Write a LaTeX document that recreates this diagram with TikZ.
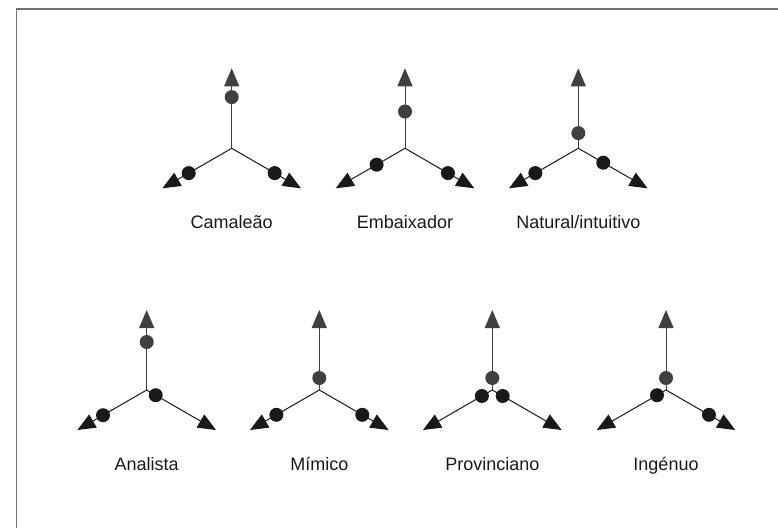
\documentclass[tikz,border=0pt]{standalone}
\usepackage{fontspec}
\setmainfont{Liberation Sans}
\usepackage{tikz}
\usetikzlibrary{arrows.meta, positioning, calc}

\begin{document}
\begin{tikzpicture}[
    x=1pt, y=-1pt,
    arm/.style={-{Triangle[length=18pt, width=15pt]}, line width=1pt, draw=black!90},
    uparm/.style={arm, draw=black!75},
    dot/.style={circle, fill=black!90, inner sep=0pt, minimum size=14pt},
    topdot/.style={dot, fill=black!75},
    caption/.style={font=\fontsize{18}{21}\selectfont, text=black!90, anchor=base, inner sep=0pt},
    frame/.style={line width=1.3pt, draw=black!55}
]
\useasboundingbox (0,0) rectangle (778,528);
\draw[frame] (16.5,528) -- (16.5,9) -- (778,9);

% Camaleao
\coordinate (cam) at (231.7,148.3);
\coordinate[above=80pt of cam] (cam-u);
\coordinate[below left=40pt and 69.3pt of cam] (cam-l);
\coordinate[below right=40pt and 69.3pt of cam] (cam-r);
\draw[uparm] (cam) -- (cam-u);
\draw[arm] (cam) -- (cam-l);
\draw[arm] (cam) -- (cam-r);
\node[topdot] (cam-du) at ($(cam)!0.64!(cam-u)$) {};
\node[dot] (cam-dl) at ($(cam)!0.62!(cam-l)$) {};
\node[dot] (cam-dr) at ($(cam)!0.62!(cam-r)$) {};
\node[below=80pt of cam, caption] (cam-t) {Camaleão};

% Embaixador
\coordinate (emb) at (405,148.3);
\coordinate[above=80pt of emb] (emb-u);
\coordinate[below left=40pt and 69.3pt of emb] (emb-l);
\coordinate[below right=40pt and 69.3pt of emb] (emb-r);
\draw[uparm] (emb) -- (emb-u);
\draw[arm] (emb) -- (emb-l);
\draw[arm] (emb) -- (emb-r);
\node[topdot] (emb-du) at ($(emb)!0.46!(emb-u)$) {};
\node[dot] (emb-dl) at ($(emb)!0.41!(emb-l)$) {};
\node[dot] (emb-dr) at ($(emb)!0.62!(emb-r)$) {};
\node[below=80pt of emb, caption] (emb-t) {Embaixador};

% Natural/intuitivo
\coordinate (nat) at (578.3,148.3);
\coordinate[above=80pt of nat] (nat-u);
\coordinate[below left=40pt and 69.3pt of nat] (nat-l);
\coordinate[below right=40pt and 69.3pt of nat] (nat-r);
\draw[uparm] (nat) -- (nat-u);
\draw[arm] (nat) -- (nat-l);
\draw[arm] (nat) -- (nat-r);
\node[topdot] (nat-du) at ($(nat)!0.19!(nat-u)$) {};
\node[dot] (nat-dl) at ($(nat)!0.62!(nat-l)$) {};
\node[dot] (nat-dr) at ($(nat)!0.36!(nat-r)$) {};
\node[below=80pt of nat, caption] (nat-t) {Natural/intuitivo};

% Analista
\coordinate (ana) at (146.7,390);
\coordinate[above=80pt of ana] (ana-u);
\coordinate[below left=40pt and 69.3pt of ana] (ana-l);
\coordinate[below right=40pt and 69.3pt of ana] (ana-r);
\draw[uparm] (ana) -- (ana-u);
\draw[arm] (ana) -- (ana-l);
\draw[arm] (ana) -- (ana-r);
\node[topdot] (ana-du) at ($(ana)!0.60!(ana-u)$) {};
\node[dot] (ana-dl) at ($(ana)!0.63!(ana-l)$) {};
\node[dot] (ana-dr) at ($(ana)!0.13!(ana-r)$) {};
\node[below=80pt of ana, caption] (ana-t) {Analista};

% Mimico
\coordinate (mim) at (319.3,390);
\coordinate[above=80pt of mim] (mim-u);
\coordinate[below left=40pt and 69.3pt of mim] (mim-l);
\coordinate[below right=40pt and 69.3pt of mim] (mim-r);
\draw[uparm] (mim) -- (mim-u);
\draw[arm] (mim) -- (mim-l);
\draw[arm] (mim) -- (mim-r);
\node[topdot] (mim-du) at ($(mim)!0.15!(mim-u)$) {};
\node[dot] (mim-dl) at ($(mim)!0.62!(mim-l)$) {};
\node[dot] (mim-dr) at ($(mim)!0.62!(mim-r)$) {};
\node[below=80pt of mim, caption] (mim-t) {Mímico};

% Provinciano
\coordinate (pro) at (492.3,390);
\coordinate[above=80pt of pro] (pro-u);
\coordinate[below left=40pt and 69.3pt of pro] (pro-l);
\coordinate[below right=40pt and 69.3pt of pro] (pro-r);
\draw[uparm] (pro) -- (pro-u);
\draw[arm] (pro) -- (pro-l);
\draw[arm] (pro) -- (pro-r);
\node[topdot] (pro-du) at ($(pro)!0.15!(pro-u)$) {};
\node[dot] (pro-dl) at ($(pro)!0.15!(pro-l)$) {};
\node[dot] (pro-dr) at ($(pro)!0.15!(pro-r)$) {};
\node[below=80pt of pro, caption] (pro-t) {Provinciano};

% Ingenuo
\coordinate (ing) at (666,390);
\coordinate[above=80pt of ing] (ing-u);
\coordinate[below left=40pt and 69.3pt of ing] (ing-l);
\coordinate[below right=40pt and 69.3pt of ing] (ing-r);
\draw[uparm] (ing) -- (ing-u);
\draw[arm] (ing) -- (ing-l);
\draw[arm] (ing) -- (ing-r);
\node[topdot] (ing-du) at ($(ing)!0.15!(ing-u)$) {};
\node[dot] (ing-dl) at ($(ing)!0.13!(ing-l)$) {};
\node[dot] (ing-dr) at ($(ing)!0.62!(ing-r)$) {};
\node[below=80pt of ing, caption] (ing-t) {Ingénuo};

\end{tikzpicture}
\end{document}
